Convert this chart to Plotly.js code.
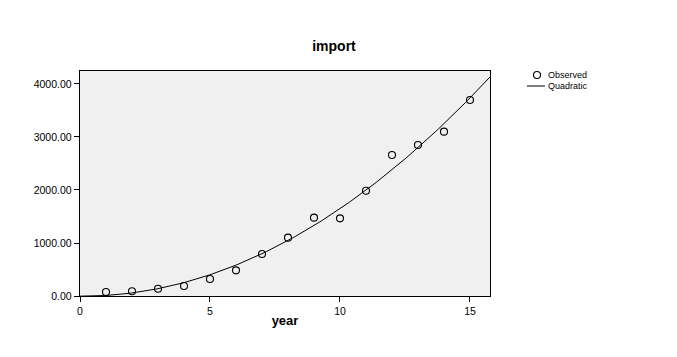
<!DOCTYPE html>
<html>
<head>
<meta charset="utf-8">
<script src="https://cdn.plot.ly/plotly-3.0.1.min.js"></script>
<style>html,body{margin:0;padding:0;background:#fff;}#chart{width:677px;height:357px;}</style>
</head>
<body>
<div id="chart"></div>
<script>
// Observed data
var years = [1, 2, 3, 4, 5, 6, 7, 8, 9, 10, 11, 12, 13, 14, 15];
var importValues = [75, 90, 138, 189, 321, 484, 792, 1101, 1478, 1465, 1987, 2660, 2849, 3101, 3698];
var yTickVals = [0, 1000, 2000, 3000, 4000];
var xTickVals = [0, 5, 10, 15];
var legendLabels = ["Observed", "Quadratic"];

// Quadratic least-squares fit of the observed data (the "Quadratic" model line)
function quadFit(xs, ys) {
  var n = xs.length, S = [0,0,0,0,0], T = [0,0,0];
  for (var i = 0; i < n; i++) {
    var x = xs[i], y = ys[i];
    for (var k = 0; k < 5; k++) S[k] += Math.pow(x, k);
    for (var k2 = 0; k2 < 3; k2++) T[k2] += Math.pow(x, k2) * y;
  }
  var M = [[S[0],S[1],S[2],T[0]],[S[1],S[2],S[3],T[1]],[S[2],S[3],S[4],T[2]]];
  for (var c = 0; c < 3; c++) {
    for (var r = c + 1; r < 3; r++) {
      var f = M[r][c] / M[c][c];
      for (var j = c; j < 4; j++) M[r][j] -= f * M[c][j];
    }
  }
  var b = [0,0,0];
  for (var r2 = 2; r2 >= 0; r2--) {
    var s = M[r2][3];
    for (var j2 = r2 + 1; j2 < 3; j2++) s -= M[r2][j2] * b[j2];
    b[r2] = s / M[r2][r2];
  }
  return b;
}
var coef = quadFit(years, importValues);
var xMax = 15.77, yMax = 4245;
var fitX = [], fitY = [];
for (var i = 0; i <= 200; i++) {
  var x = xMax * i / 200;
  fitX.push(x);
  fitY.push(coef[0] + coef[1] * x + coef[2] * x * x);
}

var font = "Liberation Sans, Arial, sans-serif";
var traces = [
  {x: fitX, y: fitY, mode: "lines", name: legendLabels[1],
   line: {color: "#000", width: 1}, hoverinfo: "skip", cliponaxis: true},
  {x: years, y: importValues, mode: "markers", name: legendLabels[0],
   marker: {symbol: "circle-open", size: 7, color: "#000", line: {width: 1.1, color: "#000"}}}
];

function px(p) { return (p - 80) / 410; }
function py(p) { return (296 - p) / 225; }

var layout = {
  width: 677, height: 357,
  margin: {l: 80, r: 187, t: 71, b: 61},
  paper_bgcolor: "#fff",
  plot_bgcolor: "#f0f0f0",
  showlegend: false,
  font: {family: font, color: "#000"},
  title: {text: "<b>import</b>", font: {size: 14, family: font, color: "#000"},
          x: 334 / 677, xref: "container", xanchor: "center",
          y: 1, yref: "paper", yanchor: "bottom", pad: {b: 20}},
  xaxis: {
    range: [0, xMax], tickvals: xTickVals, ticktext: xTickVals.map(String),
    ticks: "outside", ticklen: 5, tickcolor: "#000", tickwidth: 1,
    showline: true, linecolor: "#000", linewidth: 1.3, mirror: true,
    showgrid: false, zeroline: false,
    tickfont: {size: 10.5, family: font, color: "#000"},
    title: {text: "<b>year</b>", font: {size: 13, family: font, color: "#000"}, standoff: 0}
  },
  yaxis: {
    range: [0, yMax], tickvals: yTickVals, tickformat: ".2f",
    ticks: "outside", ticklen: 5, tickcolor: "#000", tickwidth: 1,
    showline: true, linecolor: "#000", linewidth: 1.3, mirror: true,
    showgrid: false, zeroline: false,
    tickfont: {size: 10.5, family: font, color: "#000"}
  },
  shapes: [
    {type: "circle", xref: "paper", yref: "paper",
     x0: px(533.5), x1: px(540.5), y0: py(78.5), y1: py(71.5),
     line: {color: "#000", width: 1.1}, fillcolor: "rgba(0,0,0,0)"},
    {type: "line", xref: "paper", yref: "paper",
     x0: px(527), x1: px(545), y0: py(86), y1: py(86),
     line: {color: "#000", width: 1}}
  ],
  annotations: [
    {text: legendLabels[0], xref: "paper", yref: "paper", x: px(546), y: py(75),
     xanchor: "left", yanchor: "middle", showarrow: false, font: {size: 9, family: font, color: "#000"}},
    {text: legendLabels[1], xref: "paper", yref: "paper", x: px(546), y: py(86),
     xanchor: "left", yanchor: "middle", showarrow: false, font: {size: 9, family: font, color: "#000"}}
  ]
};

Plotly.newPlot("chart", traces, layout, {displayModeBar: false, staticPlot: true});
</script>
</body>
</html>
